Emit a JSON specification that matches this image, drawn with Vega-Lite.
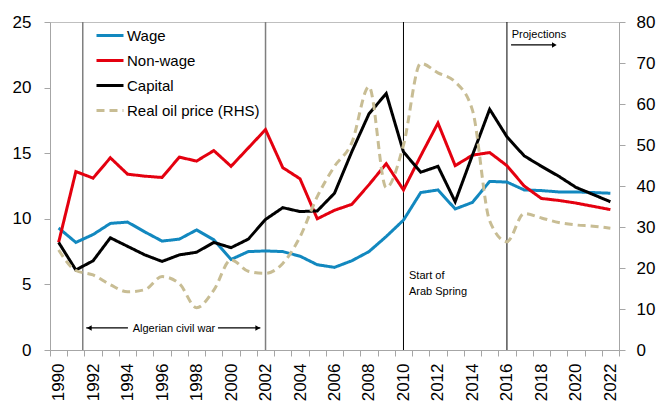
{
  "$schema": "https://vega.github.io/schema/vega-lite/v6.json",
  "width": 569,
  "height": 328,
  "autosize": {"type": "none"},
  "padding": {"left": 50, "top": 22, "right": 40, "bottom": 52},
  "background": "white",
  "config": {
    "view": {"stroke": "#BFBFBF", "strokeWidth": 1},
    "font": "Liberation Sans",
    "axis": {
      "grid": false,
      "domainColor": "#A6A6A6",
      "tickColor": "#A6A6A6",
      "labelColor": "#000000",
      "labelFont": "Liberation Sans",
      "labelFontSize": 17,
      "title": null
    },
    "legend": {"labelFont": "Liberation Sans"}
  },
  "datasets": {
    "main": [
      {"year": 1990, "Wage": 9.3, "Non-wage": 8.2, "Capital": 8.2, "Real oil price (RHS)": 24.4},
      {"year": 1991, "Wage": 8.2, "Non-wage": 13.6, "Capital": 6.1, "Real oil price (RHS)": 19.4},
      {"year": 1992, "Wage": 8.8, "Non-wage": 13.1, "Capital": 6.8, "Real oil price (RHS)": 18.3},
      {"year": 1993, "Wage": 9.65, "Non-wage": 14.65, "Capital": 8.55, "Real oil price (RHS)": 15.9},
      {"year": 1994, "Wage": 9.75, "Non-wage": 13.4, "Capital": 7.9, "Real oil price (RHS)": 14.2},
      {"year": 1995, "Wage": 9.0, "Non-wage": 13.25, "Capital": 7.25, "Real oil price (RHS)": 14.7},
      {"year": 1996, "Wage": 8.3, "Non-wage": 13.15, "Capital": 6.75, "Real oil price (RHS)": 17.9},
      {"year": 1997, "Wage": 8.45, "Non-wage": 14.7, "Capital": 7.25, "Real oil price (RHS)": 16.2},
      {"year": 1998, "Wage": 9.15, "Non-wage": 14.4, "Capital": 7.45, "Real oil price (RHS)": 10.3},
      {"year": 1999, "Wage": 8.4, "Non-wage": 15.2, "Capital": 8.2, "Real oil price (RHS)": 14.6},
      {"year": 2000, "Wage": 6.9, "Non-wage": 14.0, "Capital": 7.8, "Real oil price (RHS)": 22.0},
      {"year": 2001, "Wage": 7.5, "Non-wage": 15.4, "Capital": 8.45, "Real oil price (RHS)": 19.2},
      {"year": 2002, "Wage": 7.55, "Non-wage": 16.8, "Capital": 9.95, "Real oil price (RHS)": 18.7},
      {"year": 2003, "Wage": 7.5, "Non-wage": 13.9, "Capital": 10.85, "Real oil price (RHS)": 21.1},
      {"year": 2004, "Wage": 7.15, "Non-wage": 13.05, "Capital": 10.55, "Real oil price (RHS)": 27.6},
      {"year": 2005, "Wage": 6.5, "Non-wage": 10.0, "Capital": 10.6, "Real oil price (RHS)": 37.4},
      {"year": 2006, "Wage": 6.3, "Non-wage": 10.65, "Capital": 11.95, "Real oil price (RHS)": 44.8},
      {"year": 2007, "Wage": 6.8, "Non-wage": 11.1, "Capital": 15.1, "Real oil price (RHS)": 50.5},
      {"year": 2008, "Wage": 7.5, "Non-wage": 12.6, "Capital": 18.0, "Real oil price (RHS)": 64.2},
      {"year": 2009, "Wage": 8.65, "Non-wage": 14.2, "Capital": 19.55, "Real oil price (RHS)": 39.6},
      {"year": 2010, "Wage": 9.9, "Non-wage": 12.2, "Capital": 15.1, "Real oil price (RHS)": 50.0},
      {"year": 2011, "Wage": 12.0, "Non-wage": 14.8, "Capital": 13.55, "Real oil price (RHS)": 69.9},
      {"year": 2012, "Wage": 12.2, "Non-wage": 17.3, "Capital": 14.0, "Real oil price (RHS)": 67.6},
      {"year": 2013, "Wage": 10.75, "Non-wage": 14.05, "Capital": 11.3, "Real oil price (RHS)": 65.4},
      {"year": 2014, "Wage": 11.25, "Non-wage": 14.85, "Capital": 14.85, "Real oil price (RHS)": 58.5},
      {"year": 2015, "Wage": 12.85, "Non-wage": 15.05, "Capital": 18.35, "Real oil price (RHS)": 31.5},
      {"year": 2016, "Wage": 12.8, "Non-wage": 14.05, "Capital": 16.25, "Real oil price (RHS)": 26.4},
      {"year": 2017, "Wage": 12.2, "Non-wage": 12.5, "Capital": 14.8, "Real oil price (RHS)": 33.3},
      {"year": 2018, "Wage": 12.15, "Non-wage": 11.55, "Capital": 14.0, "Real oil price (RHS)": 32.2},
      {"year": 2019, "Wage": 12.05, "Non-wage": 11.4, "Capital": 13.25, "Real oil price (RHS)": 31.1},
      {"year": 2020, "Wage": 12.05, "Non-wage": 11.2, "Capital": 12.4, "Real oil price (RHS)": 30.5},
      {"year": 2021, "Wage": 12.0, "Non-wage": 10.95, "Capital": 11.85, "Real oil price (RHS)": 30.2},
      {"year": 2022, "Wage": 11.95, "Non-wage": 10.7, "Capital": 11.3, "Real oil price (RHS)": 29.7}
    ],
    "grayRules": [{"year": 1991.4}, {"year": 2002}],
    "blackRules": [{"year": 2010}, {"year": 2016}],
    "arrowLines": [
      {"from": 1991.6, "to": 1994.02, "y": 1.68},
      {"from": 1999.24, "to": 2001.7, "y": 1.68},
      {"from": 2016.24, "to": 2018.7, "y": 23.25}
    ],
    "arrowHeads": [
      {"year": 1991.78, "y": 1.68, "dir": "left"},
      {"year": 2001.55, "y": 1.68, "dir": "right"},
      {"year": 2018.75, "y": 23.25, "dir": "right"}
    ],
    "centerNotes": [{"year": 1996.69, "y": 1.6, "note": "Algerian civil war"}],
    "leftNotes": [
      {"year": 2016.28, "y": 24.0, "note": "Projections"},
      {"year": 2010.32, "y": 5.66, "note": "Start of"},
      {"year": 2010.32, "y": 4.45, "note": "Arab Spring"}
    ]
  },
  "encoding": {
    "x": {
      "field": "year", "type": "quantitative",
      "scale": {"domain": [1989.5, 2022.5], "nice": false, "zero": false},
      "axis": {
        "values": [1989.5, 1990.5, 1991.5, 1992.5, 1993.5, 1994.5, 1995.5, 1996.5, 1997.5, 1998.5, 1999.5, 2000.5, 2001.5, 2002.5, 2003.5, 2004.5, 2005.5, 2006.5, 2007.5, 2008.5, 2009.5, 2010.5, 2011.5, 2012.5, 2013.5, 2014.5, 2015.5, 2016.5, 2017.5, 2018.5, 2019.5, 2020.5, 2021.5, 2022.5],
        "labelExpr": "(datum.value + 0.5) % 2 == 0 ? '' + (datum.value + 0.5) : ''",
        "labelAngle": 270,
        "labelOffset": 8.62,
        "tickSize": 6,
        "labelPadding": 7,
        "labelOverlap": false,
        "labelFlush": false,
        "labelBound": false,
        "orient": "bottom",
        "title": null,
        "encode": {"ticks": {"update": {"y2": {"value": -6}}}}
      }
    }
  },
  "layer": [
    {
      "data": {"name": "grayRules"},
      "mark": {"type": "rule", "color": "#7F7F7F", "strokeWidth": 1.5},
      "encoding": {}
    },
    {
      "data": {"name": "blackRules"},
      "mark": {"type": "rule", "color": "#000000", "strokeWidth": 1},
      "encoding": {}
    },
    {
      "data": {"name": "main"},
      "transform": [
        {"fold": ["Wage", "Non-wage", "Capital", "Real oil price (RHS)"], "as": ["series", "value"]},
        {"filter": "datum.series !== 'Real oil price (RHS)'"}
      ],
      "mark": {"type": "line", "strokeWidth": 3},
      "encoding": {
        "y": {
          "field": "value", "type": "quantitative",
          "scale": {"domain": [0, 25], "nice": false},
          "axis": {"orient": "left", "values": [0, 5, 10, 15, 20, 25], "tickSize": 6, "labelPadding": 13, "title": null, "encode": {"ticks": {"update": {"x2": {"value": 6}}}}}
        },
        "color": {
          "field": "series", "type": "nominal",
          "scale": {"domain": ["Wage", "Non-wage", "Capital", "Real oil price (RHS)"], "range": ["#1288BF", "#E4000F", "#000000", "#C8BD94"]},
          "legend": {"title": null, "orient": "none", "legendX": 45, "legendY": 1, "direction": "vertical", "symbolType": "stroke", "symbolSize": 729, "symbolStrokeWidth": 3, "labelFontSize": 15, "labelColor": "#000000", "labelOffset": 2, "rowPadding": 0, "clipHeight": 25, "padding": 0}
        },
        "strokeDash": {
          "field": "series", "type": "nominal",
          "scale": {"domain": ["Wage", "Non-wage", "Capital", "Real oil price (RHS)"], "range": [[1, 0], [1, 0], [1, 0], [8, 5]]},
          "legend": {"title": null, "orient": "none", "legendX": 45, "legendY": 1, "direction": "vertical", "symbolType": "stroke", "symbolSize": 729, "symbolStrokeWidth": 3, "labelFontSize": 15, "labelColor": "#000000", "labelOffset": 2, "rowPadding": 0, "clipHeight": 25, "padding": 0}
        }
      }
    },
    {
      "data": {"name": "main"},
      "transform": [
        {"fold": ["Wage", "Non-wage", "Capital", "Real oil price (RHS)"], "as": ["series", "value"]},
        {"filter": "datum.series === 'Real oil price (RHS)'"}
      ],
      "mark": {"type": "line", "strokeWidth": 3, "interpolate": "monotone"},
      "encoding": {
        "y": {
          "field": "value", "type": "quantitative",
          "scale": {"domain": [0, 80], "nice": false},
          "axis": {"orient": "right", "values": [0, 10, 20, 30, 40, 50, 60, 70, 80], "tickSize": 6, "labelPadding": 11, "title": null}
        },
        "color": {
          "field": "series", "type": "nominal",
          "scale": {"domain": ["Wage", "Non-wage", "Capital", "Real oil price (RHS)"], "range": ["#1288BF", "#E4000F", "#000000", "#C8BD94"]},
          "legend": {"title": null, "orient": "none", "legendX": 45, "legendY": 1, "direction": "vertical", "symbolType": "stroke", "symbolSize": 729, "symbolStrokeWidth": 3, "labelFontSize": 15, "labelColor": "#000000", "labelOffset": 2, "rowPadding": 0, "clipHeight": 25, "padding": 0}
        },
        "strokeDash": {
          "field": "series", "type": "nominal",
          "scale": {"domain": ["Wage", "Non-wage", "Capital", "Real oil price (RHS)"], "range": [[1, 0], [1, 0], [1, 0], [8, 5]]},
          "legend": {"title": null, "orient": "none", "legendX": 45, "legendY": 1, "direction": "vertical", "symbolType": "stroke", "symbolSize": 729, "symbolStrokeWidth": 3, "labelFontSize": 15, "labelColor": "#000000", "labelOffset": 2, "rowPadding": 0, "clipHeight": 25, "padding": 0}
        }
      }
    },
    {
      "data": {"name": "arrowLines"},
      "mark": {"type": "rule", "color": "#000000", "strokeWidth": 1.2},
      "encoding": {
        "x": {"field": "from", "type": "quantitative"},
        "x2": {"field": "to"},
        "y": {"field": "y", "type": "quantitative", "scale": {"domain": [0, 25], "nice": false}, "axis": null}
      }
    },
    {
      "data": {"name": "arrowHeads"},
      "mark": {"type": "point", "filled": true, "color": "#000000", "opacity": 1, "size": 30},
      "encoding": {
        "y": {"field": "y", "type": "quantitative", "scale": {"domain": [0, 25], "nice": false}, "axis": null},
        "shape": {"field": "dir", "type": "nominal", "scale": {"domain": ["left", "right"], "range": ["triangle-left", "triangle-right"]}, "legend": null}
      }
    },
    {
      "data": {"name": "centerNotes"},
      "mark": {"type": "text", "align": "center", "baseline": "middle", "font": "Liberation Sans", "fontSize": 11, "color": "#000000"},
      "encoding": {
        "y": {"field": "y", "type": "quantitative", "scale": {"domain": [0, 25], "nice": false}, "axis": null},
        "text": {"field": "note"}
      }
    },
    {
      "data": {"name": "leftNotes"},
      "mark": {"type": "text", "align": "left", "baseline": "middle", "font": "Liberation Sans", "fontSize": 11, "color": "#000000"},
      "encoding": {
        "y": {"field": "y", "type": "quantitative", "scale": {"domain": [0, 25], "nice": false}, "axis": null},
        "text": {"field": "note"}
      }
    }
  ],
  "resolve": {"scale": {"y": "independent"}}
}
